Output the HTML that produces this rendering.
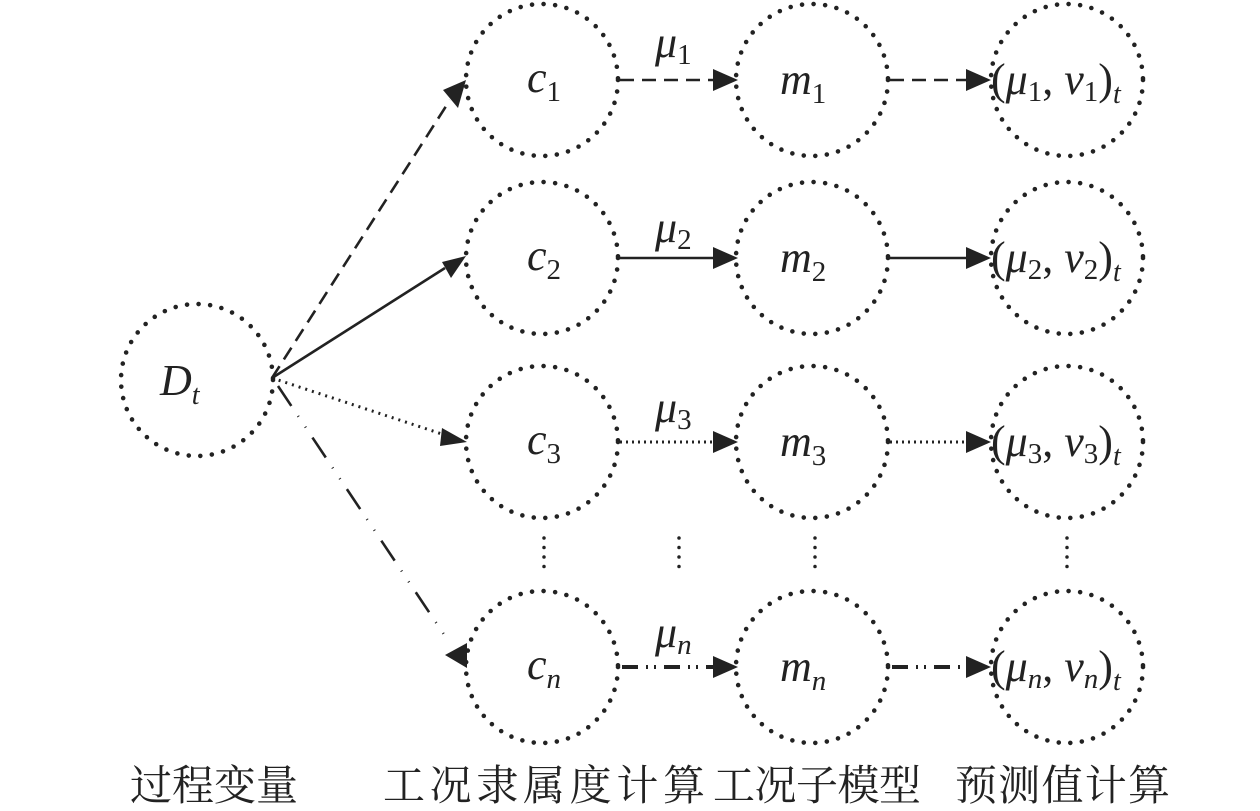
<!DOCTYPE html>
<html><head><meta charset="utf-8"><style>
html,body{margin:0;padding:0;background:#fff;}
svg{display:block;}
.m{font-family:"Liberation Serif",serif;font-style:italic;fill:#222;}
.s{font-style:normal;}
.cn{font-family:"Liberation Serif","Noto Serif CJK SC",serif;font-size:42px;fill:#222;}
</style></head><body>
<svg width="1260" height="811" viewBox="0 0 1260 811" xmlns="http://www.w3.org/2000/svg">
<g fill="none" stroke="#222" stroke-width="4.6" stroke-linecap="round" stroke-dasharray="0 11.6">
<circle cx="197" cy="380" r="76"/>
<circle cx="542" cy="80" r="76"/><circle cx="812" cy="80" r="76"/><circle cx="1067" cy="80" r="76"/>
<circle cx="542" cy="258" r="76"/><circle cx="812" cy="258" r="76"/><circle cx="1067" cy="258" r="76"/>
<circle cx="542" cy="442" r="76"/><circle cx="812" cy="442" r="76"/><circle cx="1067" cy="442" r="76"/>
<circle cx="542" cy="667" r="76"/><circle cx="812" cy="667" r="76"/><circle cx="1067" cy="667" r="76"/>
</g>
<g stroke="#222" stroke-width="3.5" stroke-linecap="round" stroke-dasharray="0 9.5" fill="none">
<line x1="544" y1="538" x2="544" y2="568"/><line x1="679" y1="538" x2="679" y2="568"/>
<line x1="815" y1="538" x2="815" y2="568"/><line x1="1067" y1="538" x2="1067" y2="568"/>
</g>
<g stroke="#222" stroke-width="2.6" fill="none">
<line x1="272" y1="378" x2="450" y2="100" stroke-dasharray="14 8"/>
<line x1="620" y1="80" x2="715" y2="80" stroke-dasharray="14 8"/>
<line x1="890" y1="80" x2="970" y2="80" stroke-dasharray="14 8"/>
<line x1="272" y1="378" x2="445" y2="268"/>
<line x1="620" y1="258" x2="715" y2="258"/>
<line x1="890" y1="258" x2="970" y2="258"/>
<line x1="272" y1="378" x2="445" y2="435" stroke-dasharray="2 5" stroke-width="3"/>
<line x1="620" y1="442" x2="715" y2="442" stroke-dasharray="2 4" stroke-width="3"/>
<line x1="890" y1="442" x2="970" y2="442" stroke-dasharray="2 4" stroke-width="3"/>
<line x1="278" y1="386" x2="445" y2="636" stroke-dasharray="24 12 1 12 1 12"/>
<line x1="622" y1="667" x2="715" y2="667" stroke-dasharray="16 8 2 6 2 8" stroke-width="4"/>
<line x1="892" y1="667" x2="970" y2="667" stroke-dasharray="16 8 2 6 2 8" stroke-width="4"/>
</g>
<g fill="#222">
<polygon points="466,80 443,90 458,108"/>
<polygon points="466,256 442,262 451,278"/>
<polygon points="467,442 442,428 440,446"/>
<polygon points="445,655 467,643 467,668"/>
<polygon points="738,80 713,69 713,91"/><polygon points="991,80 966,69 966,91"/>
<polygon points="738,258 713,247 713,269"/><polygon points="991,258 966,247 966,269"/>
<polygon points="738,442 713,431 713,453"/><polygon points="991,442 966,431 966,453"/>
<polygon points="738,667 713,656 713,678"/><polygon points="991,667 966,656 966,678"/>
</g>
<g class="m" font-size="44">
<text x="160" y="395">D<tspan font-size="28" dy="9">t</tspan></text>
<text x="527" y="92">c<tspan class="s" font-size="29" dy="9">1</tspan></text>
<text x="527" y="270">c<tspan class="s" font-size="29" dy="9">2</tspan></text>
<text x="527" y="454">c<tspan class="s" font-size="29" dy="9">3</tspan></text>
<text x="527" y="679">c<tspan font-size="29" dy="9">n</tspan></text>
<text x="780" y="94">m<tspan class="s" font-size="29" dy="9">1</tspan></text>
<text x="780" y="272">m<tspan class="s" font-size="29" dy="9">2</tspan></text>
<text x="780" y="456">m<tspan class="s" font-size="29" dy="9">3</tspan></text>
<text x="780" y="681">m<tspan font-size="29" dy="9">n</tspan></text>
<text x="655" y="57">μ<tspan class="s" font-size="29" dy="7">1</tspan></text>
<text x="655" y="242">μ<tspan class="s" font-size="29" dy="7">2</tspan></text>
<text x="655" y="422">μ<tspan class="s" font-size="29" dy="7">3</tspan></text>
<text x="655" y="647">μ<tspan font-size="29" dy="7">n</tspan></text>
<text x="991" y="94"><tspan class="s">(</tspan>μ<tspan class="s" font-size="29" dy="7">1</tspan><tspan class="s" dy="-7">, </tspan>v<tspan class="s" font-size="29" dy="7">1</tspan><tspan class="s" dy="-7">)</tspan><tspan font-size="28" dy="9">t</tspan></text>
<text x="991" y="272"><tspan class="s">(</tspan>μ<tspan class="s" font-size="29" dy="7">2</tspan><tspan class="s" dy="-7">, </tspan>v<tspan class="s" font-size="29" dy="7">2</tspan><tspan class="s" dy="-7">)</tspan><tspan font-size="28" dy="9">t</tspan></text>
<text x="991" y="456"><tspan class="s">(</tspan>μ<tspan class="s" font-size="29" dy="7">3</tspan><tspan class="s" dy="-7">, </tspan>v<tspan class="s" font-size="29" dy="7">3</tspan><tspan class="s" dy="-7">)</tspan><tspan font-size="28" dy="9">t</tspan></text>
<text x="991" y="681"><tspan class="s">(</tspan>μ<tspan font-size="29" dy="7">n</tspan><tspan class="s" dy="-7">, </tspan>v<tspan font-size="29" dy="7">n</tspan><tspan class="s" dy="-7">)</tspan><tspan font-size="28" dy="9">t</tspan></text>
</g>
<text class="cn" x="130" y="800" textLength="168">过程变量</text>
<text class="cn" x="383" y="800" textLength="322">工况隶属度计算</text>
<text class="cn" x="713" y="800" textLength="208">工况子模型</text>
<text class="cn" x="955" y="800" textLength="215">预测值计算</text>
</svg>
</body></html>
